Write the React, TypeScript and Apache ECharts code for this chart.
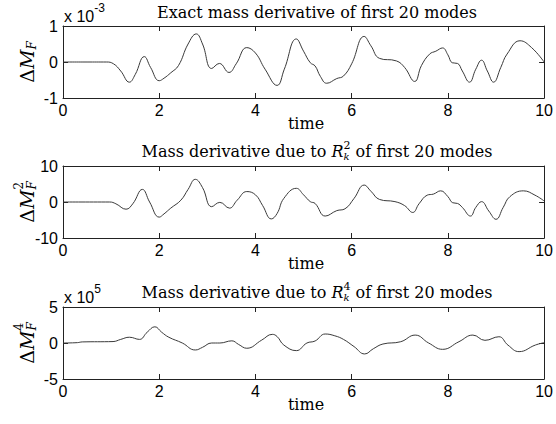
import React, { useEffect, useRef } from "react";
import * as echarts from "echarts";

// ---- data ----
const xTicks = [0, 2, 4, 6, 8, 10];

// Panel 1: exact mass derivative (units of 1e-3)
const time1 = [0, 0.5, 0.9, 1.05, 1.2, 1.38, 1.5, 1.69, 1.82, 2.0, 2.1, 2.24, 2.4, 2.6, 2.77, 2.9, 3.09, 3.25, 3.45, 3.6, 3.82, 4.0, 4.2, 4.45, 4.6, 4.85, 5.0, 5.14, 5.24, 5.35, 5.48, 5.69, 5.83, 6.0, 6.26, 6.4, 6.58, 6.93, 7.1, 7.31, 7.45, 7.62, 7.75, 7.89, 8.0, 8.09, 8.2, 8.3, 8.45, 8.58, 8.7, 8.82, 8.95, 9.1, 9.23, 9.5, 9.74, 10.0];
const mass1 = [0, 0, 0, -0.05, -0.25, -0.56, -0.35, 0.15, -0.15, -0.52, -0.45, -0.3, -0.1, 0.5, 0.78, 0.5, -0.18, -0.04, -0.29, -0.05, 0.4, 0.25, -0.2, -0.65, -0.2, 0.64, 0.3, -0.02, -0.11, -0.4, -0.59, -0.46, -0.39, -0.05, 0.71, 0.45, 0.1, 0.03, -0.15, -0.54, -0.1, 0.22, 0.3, 0.39, 0.2, -0.02, -0.04, -0.25, -0.56, -0.2, 0.05, -0.25, -0.56, -0.15, 0.22, 0.59, 0.4, 0.0];

// Panel 2: derivative due to R_k^2
const time2 = [0, 0.97, 1.1, 1.31, 1.45, 1.65, 1.8, 2.0, 2.1, 2.24, 2.45, 2.6, 2.75, 2.9, 3.09, 3.26, 3.46, 3.62, 3.82, 4.0, 4.15, 4.33, 4.45, 4.59, 4.85, 5.0, 5.14, 5.24, 5.45, 5.69, 5.86, 6.05, 6.26, 6.4, 6.58, 6.9, 7.1, 7.27, 7.4, 7.57, 7.7, 7.85, 8.0, 8.1, 8.2, 8.3, 8.47, 8.58, 8.7, 8.85, 9.0, 9.15, 9.29, 9.57, 9.81, 10.0];
const mass2 = [0, 0, -0.5, -2.0, -0.5, 3.5, 0, -4.2, -3.3, -1.7, 0.5, 3.5, 6.3, 4.0, -1.3, -0.1, -1.7, 0.5, 2.9, 2.0, -1.0, -4.7, -3.2, 1.0, 3.8, 2.0, 0.1, -0.4, -3.9, -2.4, -1.9, 1.0, 4.7, 3.0, 0.7, 0.1, -1.0, -2.9, -0.5, 1.9, 2.2, 3.1, 1.5, -0.2, -0.4, -1.5, -3.9, -1.5, 0.1, -2.5, -4.8, -1.5, 1.5, 3.1, 1.9, 0.3];

// Panel 3: derivative due to R_k^4 (units of 1e5)
const time3 = [0, 0.3, 0.4, 1.04, 1.2, 1.38, 1.59, 1.75, 1.91, 2.05, 2.2, 2.48, 2.75, 2.9, 3.09, 3.26, 3.51, 3.65, 3.82, 4.13, 4.35, 4.45, 4.59, 4.85, 5.07, 5.24, 5.45, 5.65, 5.83, 6.05, 6.27, 6.45, 6.65, 7.02, 7.32, 7.6, 7.89, 8.23, 8.52, 8.77, 9.06, 9.25, 9.48, 9.82, 10.0];
const mass3 = [0, 0.05, 0.15, 0.2, 0.5, 0.8, 0.5, 1.5, 2.25, 1.5, 0.8, 0, -0.97, -0.6, 0, 0, 0.3, -0.2, -0.73, 0.4, 1.2, 0.9, -0.28, -1.06, 0, 0.28, 1.25, 1.0, 0.5, -0.5, -1.52, -0.8, -0.14, 0.18, 1.1, 0.0, -0.88, 0.18, 1.1, 0.37, 0.87, -0.3, -1.2, -0.28, 0.05];

const yLimits = [1, 10, 5];
const titleText = "Exact mass derivative of first 20 modes";
const titlePrefix = "Mass derivative due to ";
const titleSuffix = " of first 20 modes";
const powers = ["2", "4"];
const exponents = ["-3", "", "5"];
const xName = "time";

// ---- layout ----
const W = 556;
const H = 424;
const GL = 63;
const GW = 486;
const gridTops = [26, 166, 307];
const GH = 72;
const SERIF = "DejaVu Serif";
const SANS = "Liberation Sans";

let measureCtx: CanvasRenderingContext2D | null = null;
function measure(text: string, size: number, family: string, italic: boolean) {
  if (!measureCtx) measureCtx = document.createElement("canvas").getContext("2d");
  measureCtx!.font = `${italic ? "italic " : ""}${size}px "${family}"`;
  return measureCtx!.measureText(text).width;
}

type Piece = { text: string; size: number; family?: string; italic?: boolean; dy?: number; stack?: boolean };

function layoutPieces(pieces: Piece[]) {
  let x = 0;
  let prevStart = 0;
  let prevW = 0;
  const els: any[] = [];
  for (const p of pieces) {
    const fam = p.family || SERIF;
    const wd = measure(p.text, p.size, fam, !!p.italic);
    let start: number;
    if (p.stack) {
      start = prevStart;
      x = Math.max(prevStart + prevW, start + wd);
    } else {
      start = x;
      x = start + wd;
    }
    els.push({
      type: "text",
      x: start,
      y: p.dy || 0,
      style: {
        text: p.text,
        fontSize: p.size,
        fontFamily: fam,
        fontStyle: p.italic ? "italic" : "normal",
        fill: "#000",
        align: "left",
        verticalAlign: "middle",
      },
    });
    prevStart = start;
    prevW = wd;
  }
  return { els, width: x };
}

function centeredGroup(pieces: Piece[], cx: number, cy: number, rotation = 0) {
  const { els, width } = layoutPieces(pieces);
  els.forEach((e) => (e.x -= width / 2));
  return { type: "group", x: cx, y: cy, rotation, children: els };
}

function leftGroup(pieces: Piece[], x: number, y: number) {
  const { els } = layoutPieces(pieces);
  return { type: "group", x, y, children: els };
}

export default function App() {
  const ref = useRef<HTMLDivElement>(null);

  useEffect(() => {
    if (!ref.current) return;
    const chart = echarts.init(ref.current, undefined, { renderer: "svg", width: W, height: H });

    const times = [time1, time2, time3];
    const values = [mass1, mass2, mass3];

    const grid = gridTops.map((top) => ({
      left: GL,
      top,
      width: GW,
      height: GH,
      show: false,
    }));

    const axisLine = { show: true, onZero: false, lineStyle: { color: "#222", width: 1 } };
    const tick = { show: true, inside: true, length: 5, lineStyle: { color: "#222", width: 1 } };

    const xAxis: any[] = [];
    const yAxis: any[] = [];
    gridTops.forEach((_, i) => {
      const base = {
        type: "value",
        gridIndex: i,
        min: xTicks[0],
        max: xTicks[xTicks.length - 1],
        interval: xTicks[1] - xTicks[0],
        splitLine: { show: false },
        axisLine,
        axisTick: tick,
      };
      xAxis.push({
        ...base,
        position: "bottom",
        axisLabel: { show: true, color: "#000", fontSize: 16, fontFamily: SANS, margin: 4 },
      });
      xAxis.push({ ...base, position: "top", axisLabel: { show: false } });
      const lim = yLimits[i];
      const ybase = {
        type: "value",
        gridIndex: i,
        min: -lim,
        max: lim,
        interval: lim,
        splitLine: { show: false },
        axisLine,
        axisTick: tick,
      };
      yAxis.push({
        ...ybase,
        position: "left",
        axisLabel: { show: true, color: "#000", fontSize: 16, fontFamily: SANS, margin: 5 },
      });
      yAxis.push({ ...ybase, position: "right", axisLabel: { show: false } });
    });

    const series = times.map((t, i) => ({
      type: "line",
      xAxisIndex: i * 2,
      yAxisIndex: i * 2,
      data: t.map((x, j) => [x, values[i][j]]),
      smooth: 0.45,
      showSymbol: false,
      symbol: "none",
      lineStyle: { color: "#3a3a3a", width: 1 },
      silent: true,
    }));

    const titleCx = 317;
    const graphics: any[] = [];
    // titles
    graphics.push(centeredGroup([{ text: titleText, size: 16 }], titleCx, gridTops[0] - 14));
    powers.forEach((pw, k) => {
      graphics.push(
        centeredGroup(
          [
            { text: titlePrefix, size: 16 },
            { text: "R", size: 16, italic: true },
            { text: pw, size: 11, dy: -6 },
            { text: "k", size: 10, italic: true, dy: 5, stack: true },
            { text: titleSuffix, size: 16 },
          ],
          titleCx,
          gridTops[k + 1] - 15
        )
      );
    });
    // x names
    gridTops.forEach((top) => {
      graphics.push(centeredGroup([{ text: xName, size: 16 }], GL + GW / 2, top + GH + 25));
    });
    // exponent labels
    exponents.forEach((ex, i) => {
      if (!ex) return;
      graphics.push(
        leftGroup(
          [
            { text: "x 10", size: 16, family: SANS },
            { text: ex, size: 12, family: SANS, dy: -8 },
          ],
          GL + 1,
          gridTops[i] - 10
        )
      );
    });
    // y labels (rotated)
    const yLabelPieces: Piece[][] = [
      [
        { text: "Δ", size: 19 },
        { text: "M", size: 19, italic: true },
        { text: "F", size: 12, italic: true, dy: 5 },
      ],
      [
        { text: "Δ", size: 19 },
        { text: "M", size: 19, italic: true },
        { text: "2", size: 12, dy: -8 },
        { text: "F", size: 12, italic: true, dy: 5, stack: true },
      ],
      [
        { text: "Δ", size: 19 },
        { text: "M", size: 19, italic: true },
        { text: "4", size: 12, dy: -8 },
        { text: "F", size: 12, italic: true, dy: 5, stack: true },
      ],
    ];
    yLabelPieces.forEach((p, i) => {
      graphics.push(centeredGroup(p, 27, gridTops[i] + GH / 2, Math.PI / 2));
    });

    chart.setOption({
      animation: false,
      backgroundColor: "#fff",
      grid,
      xAxis,
      yAxis,
      series,
      graphic: { elements: graphics },
    });

    return () => chart.dispose();
  }, []);

  return (
    <div
      ref={ref}
      style={{ position: "fixed", left: 0, top: 0, width: W, height: H, background: "#fff" }}
    />
  );
}
